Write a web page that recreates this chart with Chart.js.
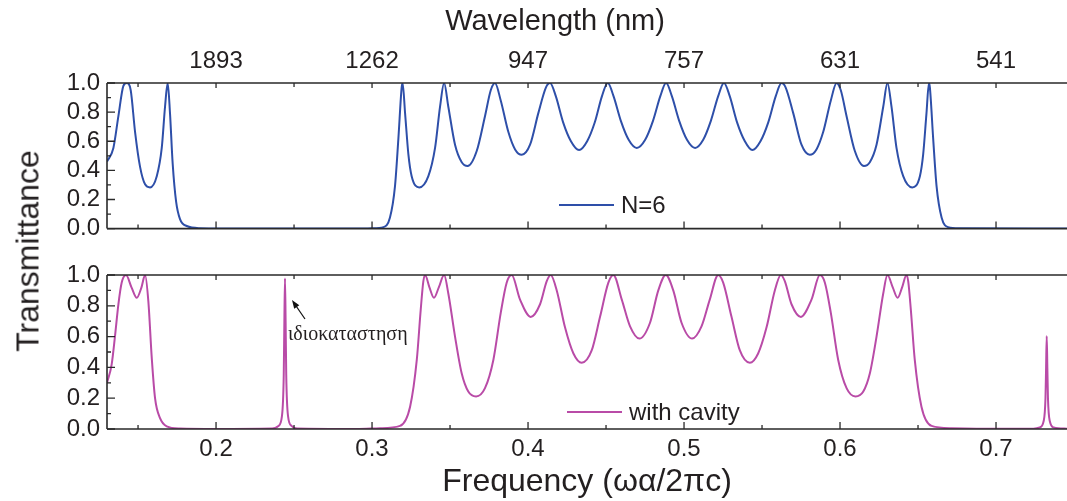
<!DOCTYPE html>
<html>
<head>
<meta charset="utf-8">
<script src="https://cdn.jsdelivr.net/npm/chart.js@4.4.1/dist/chart.umd.min.js"></script>
<style>
  body { margin: 0; background: #fff; }
  #wrap { position: relative; width: 1067px; height: 501px; overflow: hidden; font-family: "Liberation Sans", Arial, sans-serif; }
  #topChart { position: absolute; left: 0; top: 0; }
  #botChart { position: absolute; left: 0; top: 250px; }
  #ylab { position: absolute; left: 28px; top: 251px; transform: translate(-50%, -50%) rotate(-90deg);
          font-size: 32px; color: #231f20; white-space: nowrap; }
  #wlab { position: absolute; left: 555px; top: 20px; transform: translate(-50%, -50%);
          font-size: 29px; color: #231f20; white-space: nowrap; }
</style>
</head>
<body>
<div id="wrap">
  <canvas id="topChart" width="1067" height="250"></canvas>
  <canvas id="botChart" width="1067" height="251"></canvas>
  <div id="ylab">Transmittance</div>
  <div id="wlab">Wavelength (nm)</div>
</div>
<script>
// axis ranges and ticks
const freqMin = 0.1301, freqMax = 0.7455;
const freqTicks = [0.2, 0.3, 0.4, 0.5, 0.6, 0.7];
const freqMinorTicks = [0.15, 0.25, 0.35, 0.45, 0.55, 0.65];
const wavelengthLabels = ['1893', '1262', '947', '757', '631', '541'];
const transTicks = [0, 0.2, 0.4, 0.6, 0.8, 1.0];
const transMinorTicks = [0.1, 0.3, 0.5, 0.7, 0.9];

// N=6
const n6Freq = [0.1301, 0.1342, 0.1374, 0.1406, 0.1428, 0.1453, 0.1481, 0.1513, 0.1545, 0.1577,
  0.162, 0.1652, 0.1673, 0.169, 0.1705, 0.1722, 0.1744, 0.1769, 0.1812, 0.1897, 0.22, 0.29, 0.30,
  0.3073, 0.3115, 0.3147, 0.3169, 0.319, 0.3196, 0.3212, 0.3233, 0.3254, 0.3303,
  0.3361, 0.3404, 0.3436, 0.3462, 0.3489, 0.3532, 0.3575, 0.3613,
  0.3671, 0.3724, 0.3761, 0.3788, 0.3825, 0.3874, 0.3917, 0.396,
  0.4013, 0.4066, 0.4115, 0.4141, 0.4178, 0.4225, 0.4275, 0.4327,
  0.4379, 0.4428, 0.4474, 0.4511, 0.4548, 0.4595, 0.4645, 0.4697,
  0.4751, 0.4801, 0.4848, 0.4885, 0.4922, 0.4969, 0.5019, 0.5071,
  0.5123, 0.5172, 0.5219, 0.5256, 0.5293, 0.534, 0.539, 0.5438,
  0.549, 0.554, 0.5588, 0.5625, 0.5651, 0.57, 0.5753, 0.5806,
  0.5849, 0.5892, 0.5941, 0.5978, 0.6005, 0.6042, 0.6095, 0.6153,
  0.6191, 0.6234, 0.6277, 0.6304, 0.633, 0.6362, 0.6405, 0.6463,
  0.6512, 0.6533, 0.6554, 0.657, 0.6576, 0.6597, 0.6619, 0.6651, 0.6693, 0.6766, 0.7455];
const n6Trans = [0.46, 0.554, 0.772, 0.98, 1.0, 0.95, 0.663, 0.424, 0.304, 0.283,
  0.36, 0.554, 0.837, 1.0, 0.79, 0.446, 0.185, 0.065, 0.018, 0.003, 0, 0, 0.002,
  0.01, 0.076, 0.29, 0.62, 0.97, 1.0, 0.79, 0.51, 0.36, 0.283,
  0.36, 0.554, 0.837, 1.0, 0.837, 0.576, 0.456, 0.43,
  0.533, 0.772, 0.95, 1.0, 0.88, 0.663, 0.544, 0.507,
  0.576, 0.793, 0.97, 1.0, 0.91, 0.73, 0.60, 0.539,
  0.60, 0.73, 0.91, 1.0, 0.91, 0.74, 0.61, 0.554,
  0.61, 0.74, 0.91, 1.0, 0.91, 0.74, 0.61, 0.554,
  0.61, 0.74, 0.91, 1.0, 0.91, 0.73, 0.60, 0.539,
  0.60, 0.73, 0.91, 1.0, 0.97, 0.793, 0.576, 0.507,
  0.544, 0.663, 0.88, 1.0, 0.95, 0.772, 0.533, 0.43,
  0.456, 0.576, 0.837, 1.0, 0.837, 0.554, 0.36, 0.283,
  0.36, 0.51, 0.79, 1.0, 0.97, 0.62, 0.29, 0.076, 0.01, 0.002, 0];

// with cavity
const cavityFreq = [0.1301, 0.1331, 0.1353, 0.1374, 0.1395, 0.1423, 0.1458, 0.1492, 0.1522, 0.1545,
  0.1566, 0.1588, 0.1609, 0.1641, 0.1684, 0.1769, 0.20,
  0.236, 0.240, 0.2422, 0.2434, 0.2438, 0.2442, 0.2446, 0.245, 0.2462, 0.2484, 0.252, 0.29,
  0.3051, 0.3179, 0.3244, 0.3287, 0.3312, 0.3329, 0.334, 0.3368, 0.3397, 0.3428, 0.3462,
  0.3489, 0.3532, 0.3575, 0.3617, 0.3667, 0.3724, 0.3778, 0.3825, 0.3863, 0.3895,
  0.3949, 0.4017, 0.4077, 0.412, 0.4145, 0.4184, 0.4237, 0.4291, 0.4344,
  0.4408, 0.4462, 0.4515, 0.4547, 0.4601, 0.4654, 0.4714, 0.4782, 0.4835, 0.4883,
  0.4931, 0.4984, 0.5052, 0.5112, 0.5165, 0.5219, 0.5251, 0.5304, 0.5358, 0.5422,
  0.5475, 0.5529, 0.5582, 0.5621, 0.5646, 0.5689, 0.5749, 0.5817, 0.5871,
  0.5903, 0.5941, 0.5988, 0.6042, 0.6099, 0.6149, 0.6191, 0.6234, 0.6277, 0.6304,
  0.6338, 0.6369, 0.6398, 0.6426, 0.6437, 0.6454, 0.6479, 0.6522, 0.6587, 0.6715, 0.70,
  0.724, 0.728, 0.7305, 0.7317, 0.7321, 0.7325, 0.7329, 0.7333, 0.7345, 0.737, 0.7455];
const cavityTrans = [0.30, 0.42, 0.61, 0.81, 0.95, 1.0, 0.92, 0.852, 0.92, 1.0,
  0.83, 0.46, 0.20, 0.07, 0.017, 0.003, 0,
  0.003, 0.02, 0.08, 0.35, 0.7, 0.978, 0.7, 0.35, 0.08, 0.02, 0.003, 0,
  0.005, 0.02, 0.145, 0.45, 0.774, 0.96, 1.0, 0.92, 0.852, 0.92, 1.0,
  0.88, 0.60, 0.36, 0.243, 0.211, 0.265, 0.45, 0.754, 0.95, 1.0,
  0.84, 0.728, 0.81, 0.96, 1.0, 0.90, 0.66, 0.49, 0.43,
  0.51, 0.73, 0.95, 1.0, 0.84, 0.666, 0.587, 0.69, 0.90, 1.0,
  0.90, 0.69, 0.587, 0.666, 0.84, 1.0, 0.95, 0.73, 0.51, 0.43,
  0.49, 0.66, 0.90, 1.0, 0.96, 0.81, 0.728, 0.84, 1.0,
  0.95, 0.754, 0.45, 0.265, 0.211, 0.243, 0.36, 0.60, 0.88, 1.0,
  0.92, 0.852, 0.92, 1.0, 0.96, 0.774, 0.45, 0.145, 0.02, 0.005, 0.001,
  0.002, 0.01, 0.05, 0.2, 0.4, 0.603, 0.4, 0.2, 0.05, 0.01, 0.002];

const defectFreq = 0.2442;
const noteText = 'ιδιοκαταστηση';

const textColor = '#231f20';
const tickFont = { family: 'Liberation Sans', size: 24 };

function pairs(xs, ys) {
  return xs.map((x, i) => ({ x: x, y: ys[i] }));
}

// frame, inward ticks, legend and note
function framePlugin(opt) {
  return {
    id: 'frame',
    afterDraw(chart) {
      const ctx = chart.ctx, a = chart.chartArea;
      const xs = chart.scales.x, ys = chart.scales.y;
      ctx.save();
      ctx.strokeStyle = '#2a2a2a';
      ctx.lineWidth = 1.6;
      ctx.beginPath();
      ctx.moveTo(a.left, a.top); ctx.lineTo(a.right, a.top);
      ctx.moveTo(a.left, a.bottom); ctx.lineTo(a.right, a.bottom);
      ctx.moveTo(a.left, a.top); ctx.lineTo(a.left, a.bottom);
      ctx.stroke();

      ctx.lineWidth = 1.3;
      ctx.beginPath();
      freqTicks.forEach(v => {
        const p = xs.getPixelForValue(v);
        ctx.moveTo(p, a.bottom); ctx.lineTo(p, a.bottom - 7);
        ctx.moveTo(p, a.top); ctx.lineTo(p, a.top + 5);
      });
      freqMinorTicks.forEach(v => {
        const p = xs.getPixelForValue(v);
        ctx.moveTo(p, a.bottom); ctx.lineTo(p, a.bottom - 4);
        ctx.moveTo(p, a.top); ctx.lineTo(p, a.top + 4);
      });
      transTicks.forEach(v => {
        const p = ys.getPixelForValue(v);
        ctx.moveTo(a.left, p); ctx.lineTo(a.left + 8, p);
      });
      transMinorTicks.forEach(v => {
        const p = ys.getPixelForValue(v);
        ctx.moveTo(a.left, p); ctx.lineTo(a.left + 4, p);
      });
      ctx.stroke();

      // legend
      const ds = chart.data.datasets[0];
      ctx.strokeStyle = ds.borderColor;
      ctx.lineWidth = 2;
      ctx.beginPath();
      ctx.moveTo(opt.legendX, opt.legendY);
      ctx.lineTo(opt.legendX + 55, opt.legendY);
      ctx.stroke();
      ctx.fillStyle = textColor;
      ctx.font = '24px "Liberation Sans"';
      ctx.textBaseline = 'middle';
      ctx.textAlign = 'left';
      ctx.fillText(ds.label, opt.legendX + 62, opt.legendY + 1);

      if (opt.note) {
        const px = xs.getPixelForValue(defectFreq);
        const tipX = px + 7, tipY = 50, tailX = px + 20, tailY = 69;
        ctx.strokeStyle = '#111';
        ctx.lineWidth = 1.2;
        ctx.beginPath();
        ctx.moveTo(tailX, tailY); ctx.lineTo(tipX + 2, tipY + 3);
        ctx.stroke();
        const ang = Math.atan2(tipY - tailY, tipX - tailX);
        ctx.fillStyle = '#111';
        ctx.beginPath();
        ctx.moveTo(tipX, tipY);
        ctx.lineTo(tipX - 9 * Math.cos(ang - 0.35), tipY - 9 * Math.sin(ang - 0.35));
        ctx.lineTo(tipX - 9 * Math.cos(ang + 0.35), tipY - 9 * Math.sin(ang + 0.35));
        ctx.closePath();
        ctx.fill();
        ctx.fillStyle = textColor;
        ctx.font = '20px "Liberation Serif"';
        ctx.textBaseline = 'middle';
        ctx.fillText(noteText, px + 3, 85);
      }
      ctx.restore();
    }
  };
}

function yScale() {
  return {
    type: 'linear', position: 'left', min: 0, max: 1,
    afterBuildTicks: s => { s.ticks = transTicks.map(v => ({ value: v })); },
    afterFit: s => { s.width = 107; },
    grid: { display: false, drawTicks: false },
    border: { display: false },
    ticks: { color: textColor, font: tickFont, padding: 7, autoSkip: false,
             callback: v => v.toFixed(1) }
  };
}

function lineSet(label, color, xs, ys) {
  return {
    label: label,
    data: pairs(xs, ys),
    borderColor: color,
    borderWidth: 2,
    pointRadius: 0,
    fill: false,
    cubicInterpolationMode: 'monotone'
  };
}

const common = {
  responsive: false,
  animation: false,
  events: [],
  plugins: { legend: { display: false }, tooltip: { enabled: false } }
};

new Chart(document.getElementById('topChart'), {
  type: 'line',
  data: { datasets: [lineSet('N=6', '#2e4fa9', n6Freq, n6Trans)] },
  options: Object.assign({}, common, {
    layout: { padding: 0 },
    scales: {
      x: {
        type: 'linear', position: 'bottom', min: freqMin, max: freqMax,
        afterFit: s => { s.height = 13; },
        grid: { display: false, drawTicks: false },
        border: { display: false },
        ticks: { display: false }
      },
      xTop: {
        type: 'linear', position: 'top', min: freqMin, max: freqMax,
        afterBuildTicks: s => { s.ticks = freqTicks.map(v => ({ value: v })); },
        afterFit: s => { s.height = 83; },
        grid: { display: false, drawTicks: false },
        border: { display: false },
        ticks: { color: textColor, font: tickFont, padding: 7, maxRotation: 0, autoSkip: false,
                 callback: (v, i) => wavelengthLabels[i] }
      },
      y: yScale()
    }
  }),
  plugins: [framePlugin({ legendX: 559, legendY: 205 })]
});

new Chart(document.getElementById('botChart'), {
  type: 'line',
  data: { datasets: [lineSet('with cavity', '#b94ba7', cavityFreq, cavityTrans)] },
  options: Object.assign({}, common, {
    layout: { padding: { top: 25 } },
    scales: {
      x: {
        type: 'linear', position: 'bottom', min: freqMin, max: freqMax,
        afterBuildTicks: s => { s.ticks = freqTicks.map(v => ({ value: v })); },
        afterFit: s => { s.height = 72; },
        grid: { display: false, drawTicks: false },
        border: { display: false },
        ticks: { color: textColor, font: tickFont, padding: 6, maxRotation: 0, autoSkip: false,
                 callback: v => v.toFixed(1) },
        title: { display: true, text: 'Frequency (ωα/2πc)', color: textColor,
                 font: { family: 'Liberation Sans', size: 32 }, padding: { top: 0, bottom: 0 } }
      },
      y: yScale()
    }
  }),
  plugins: [framePlugin({ legendX: 567, legendY: 162, note: true })]
});
</script>
</body>
</html>
